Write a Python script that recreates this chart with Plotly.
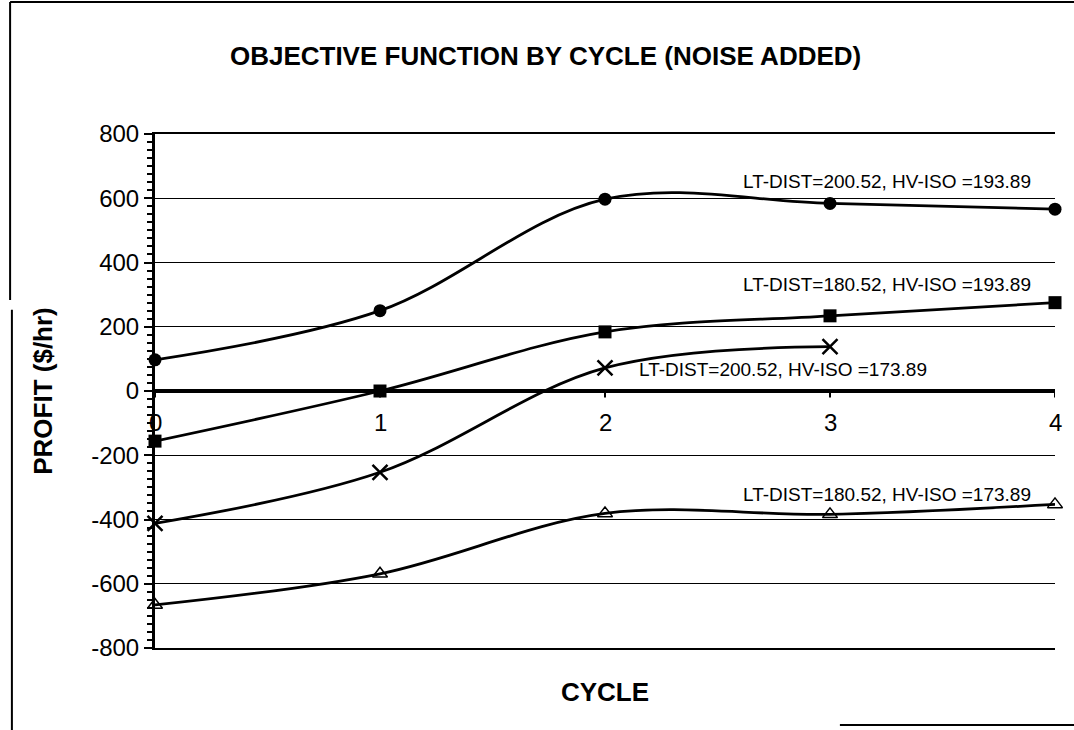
import plotly.graph_objects as go

cycles = [0, 1, 2, 3, 4]
series_names = [
    'LT-DIST=200.52, HV-ISO =193.89',
    'LT-DIST=180.52, HV-ISO =193.89',
    'LT-DIST=200.52, HV-ISO =173.89',
    'LT-DIST=180.52, HV-ISO =173.89',
]
profit_a = [97, 250, 597, 584, 566]
profit_b = [-156, 0, 184, 234, 275]
profit_c = [-412, -253, 72, 138]
profit_d = [-666, -569, -381, -384, -353]

# label anchor points (x, y) in data units
label_x = [3.9, 3.9, 2.14, 3.9]
label_y = [653, 331, 66, -322]
label_anchor = ['right', 'right', 'left', 'right']

x_tick_labels = ['0', '1', '2', '3', '4']
y_ticks = [-800, -600, -400, -200, 0, 200, 400, 600, 800]
y_tick_labels = ['-800', '-600', '-400', '-200', '0', '200', '400', '600', '800']

FONT = 'Liberation Sans, Arial, sans-serif'

fig = go.Figure()

styles = [
    dict(symbol='circle', size=13, color='black'),
    dict(symbol='square', size=13, color='black'),
    dict(symbol='x-thin', size=15, color='black', line=dict(width=2.5, color='black')),
    dict(symbol='triangle-up-open', size=13, color='black', line=dict(width=1.5, color='black')),
]
for ys, name, mk in zip([profit_a, profit_b, profit_c, profit_d], series_names, styles):
    fig.add_trace(go.Scatter(
        x=cycles[:len(ys)], y=ys, name=name, mode='lines+markers',
        line=dict(color='black', width=2.8, shape='spline', smoothing=1.0),
        marker=mk, cliponaxis=False,
    ))

# thick zero line
fig.add_trace(go.Scatter(
    x=[cycles[0], cycles[-1]], y=[0, 0], mode='lines',
    line=dict(color='black', width=4), hoverinfo='skip',
))

for t, x, y, a in zip(series_names, label_x, label_y, label_anchor):
    fig.add_annotation(x=x, y=y, text=t, showarrow=False, xanchor=a, yanchor='middle',
                       font=dict(family=FONT, size=19, color='black'))

# x tick labels sit just below the zero line
for c, lab in zip(cycles, x_tick_labels):
    fig.add_annotation(x=c, y=0, text=lab, showarrow=False, yanchor='middle', yshift=-31,
                       font=dict(family=FONT, size=24, color='black'))
    fig.add_shape(type='line', x0=c, x1=c, y0=0, y1=-20, line=dict(color='black', width=2))

# outer frame pieces
frame = dict(type='line', xref='paper', yref='paper', line=dict(color='black', width=2))
fig.add_shape(x0=-0.161, x1=1.03, y0=1.257, y1=1.257, **frame)
fig.add_shape(x0=-0.161, x1=-0.161, y0=0.677, y1=1.257, **frame)
fig.add_shape(x0=-0.159, x1=-0.159, y0=-0.17, y1=0.658, **frame)
fig.add_shape(x0=0.761, x1=1.03, y0=-0.15, y1=-0.15, **frame)

fig.update_layout(
    width=1074, height=730,
    paper_bgcolor='white', plot_bgcolor='white',
    showlegend=False,
    margin=dict(l=155, r=19, t=134, b=82),
    font=dict(family=FONT, color='black'),
    title=dict(text='<b>OBJECTIVE FUNCTION BY CYCLE (NOISE ADDED)</b>',
               x=0.508, xanchor='center', y=0.923, yanchor='middle',
               font=dict(family=FONT, size=26, color='black')),
)
fig.update_xaxes(
    range=[0, 4], showgrid=False, zeroline=False, showticklabels=False,
    showline=True, linecolor='black', linewidth=1.5, mirror=True,
    title=dict(text='<b>CYCLE</b>', font=dict(family=FONT, size=26), standoff=34),
)
fig.update_yaxes(
    range=[-800, 800], tickvals=y_ticks, ticktext=y_tick_labels, zeroline=False,
    showgrid=True, gridcolor='black', gridwidth=1,
    showline=True, linecolor='black', linewidth=3, mirror=False,
    ticks='outside', ticklen=8, tickwidth=2, tickcolor='black',
    minor=dict(dtick=25, ticks='outside', ticklen=5, tickwidth=2, tickcolor='black', showgrid=False),
    tickfont=dict(family=FONT, size=24),
    title=dict(text='<b>PROFIT ($/hr)</b>', font=dict(family=FONT, size=26), standoff=32),
)

fig.write_html("out.html", config={'displayModeBar': False},
               post_script="document.body.style.margin='0';")
